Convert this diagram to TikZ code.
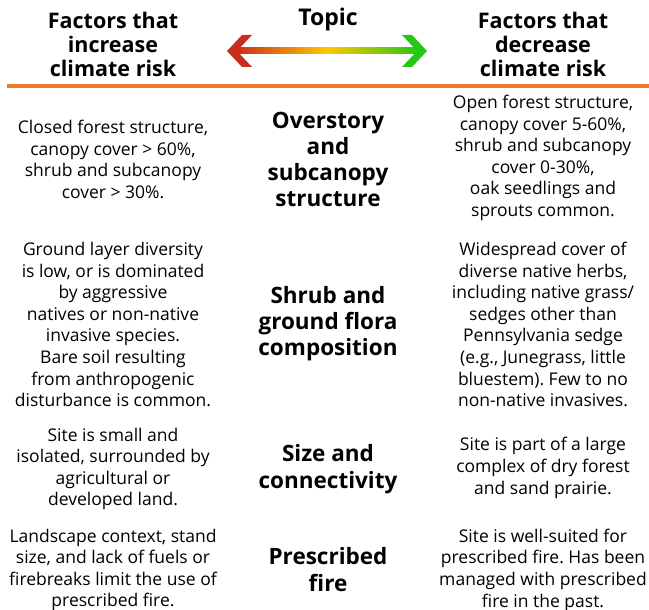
\documentclass[tikz,border=0pt]{standalone}
\usepackage{fontspec}
\setmainfont{Open Sans}
\usetikzlibrary{calc}
\frenchspacing
\definecolor{arrRed}{RGB}{200,45,30}
\definecolor{arrYellow}{RGB}{255,200,0}
\definecolor{arrGreen}{RGB}{35,200,20}
\definecolor{ruleOrange}{RGB}{240,120,40}
\begin{document}
\begin{tikzpicture}[x=1bp,y=-1bp,
  body/.style={align=center, inner sep=0pt, font=\fontsize{17.5bp}{21.6bp}\selectfont},
  head/.style={align=center, inner sep=0pt, font=\fontsize{21.5bp}{24bp}\selectfont\bfseries},
  topic/.style={align=center, inner sep=0pt, font=\fontsize{22.5bp}{26.3bp}\selectfont\bfseries}]
\useasboundingbox (0,0) rectangle (649,610);
% header
\node[head] (hL) at (113,44) {Factors that\\increase\\climate risk};
\node[head, font=\fontsize{23bp}{26bp}\selectfont\bfseries] (hT) at (328,20) {Topic};
\node[head] (hR) at (543,44) {Factors that\\decrease\\climate risk};
% arrow
\coordinate (arrL) at (227,51);
\coordinate (arrR) at (427,51);
\shade[left color=arrRed, right color=arrGreen, middle color=arrYellow]
  ($(arrL)+(8,-3)$) rectangle ($(arrR)+(-8,3)$);
\fill[arrRed] (arrL) -- ++(15,-16) -- ++(10,0) -- ++(-15,16) -- ++(15,16) -- ++(-10,0) -- cycle;
\fill[arrGreen] (arrR) -- ++(-15,-16) -- ++(-10,0) -- ++(15,16) -- ++(-15,16) -- ++(10,0) -- cycle;
% orange rule
\fill[ruleOrange] (7,84) rectangle (649,88);
% row 1
\node[body] (r1L) at (113,159.5) {Closed forest structure,\\canopy cover > 60\%,\\shrub and subcanopy\\cover > 30\%.};
\node[topic] (r1T) at (328,159.5) {Overstory\\and\\subcanopy\\structure};
\node[body] (r1R) at (543,158) {Open forest structure,\\canopy cover 5-60\%,\\shrub and subcanopy\\cover 0-30\%,\\oak seedlings and\\sprouts common.};
% row 2
\node[body] (r2L) at (113,324.5) {Ground layer diversity\\is low, or is dominated\\by aggressive\\natives or non-native\\invasive species.\\Bare soil resulting\\from anthropogenic\\disturbance is common.};
\node[topic] (r2T) at (328,323.5) {Shrub and\\ground flora\\composition};
\node[body] (r2R) at (543,324.5) {Widespread cover of\\diverse native herbs,\\including native grass/\\sedges other than\\Pennsylvania sedge\\(e.g., Junegrass, little\\bluestem). Few to no\\non-native invasives.};
% row 3
\node[body] (r3L) at (113,469) {Site is small and\\isolated, surrounded by\\agricultural or\\developed land.};
\node[topic] (r3T) at (328,469) {Size and\\connectivity};
\node[body] (r3R) at (543,468) {Site is part of a large\\complex of dry forest\\and sand prairie.};
% row 4
\node[body] (r4L) at (113,570) {Landscape context, stand\\size, and lack of fuels or\\firebreaks limit the use of\\prescribed fire.};
\node[topic] (r4T) at (328,569.5) {Prescribed\\fire};
\node[body] (r4R) at (543,570) {Site is well-suited for\\prescribed fire. Has been\\managed with prescribed\\fire in the past.};
\end{tikzpicture}
\end{document}
